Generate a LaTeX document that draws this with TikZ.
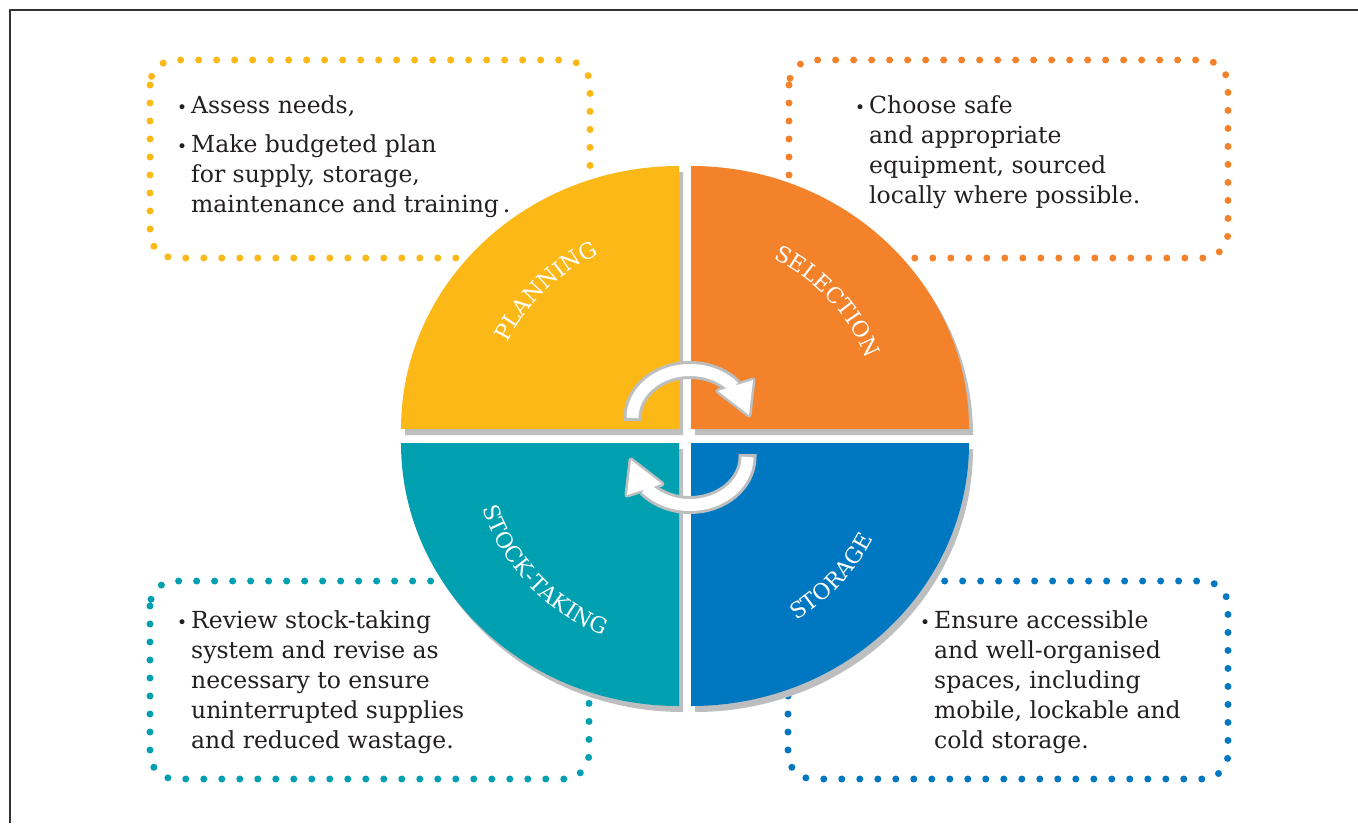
\documentclass[tikz,border=0pt]{standalone}
\usepackage{fontspec}
\setmainfont{DejaVu Serif}
\usetikzlibrary{calc,decorations.text}
\definecolor{cyPlan}{HTML}{FBB817}
\definecolor{cySelect}{HTML}{F3822A}
\definecolor{cyStock}{HTML}{00A0B0}
\definecolor{cyStore}{HTML}{0077C1}
\definecolor{cyShade}{HTML}{BCBEC0}
\definecolor{cyInk}{HTML}{231F20}
\definecolor{cyFrame}{HTML}{333333}
\newcommand{\cylabelfont}{\fontsize{22}{22}\selectfont\color{white}}
\newcommand{\cybul}{\makebox[14pt][l]{\fontsize{17}{30}\selectfont\textbullet}}
% one curved arrow of the cycle, drawn at the top, turned for the bottom one
\newcommand{\cyarrow}{%
  \draw[arrowrim] (632.5,421) -- (632.5,418) arc[start angle=180,end angle=320,x radius=57.5,y radius=48];
  \draw[cyShade,fill=cyShade,line width=5pt] (718,391) -- (753,380) -- (749,415) -- cycle;
  \draw[arrowcore] (632.5,418) arc[start angle=180,end angle=320,x radius=57.5,y radius=48];
  \fill[white] (718,391) -- (753,380) -- (749,415) -- cycle;}

\begin{document}
\begin{tikzpicture}[x=1pt,y=-1pt,line join=round]
\useasboundingbox[fill=white] (0,0) rectangle (1358,823);
\tikzset{dotbox/.style={draw=#1,line width=7pt,line cap=round,dash pattern=on 0pt off 18pt,rounded corners=25pt},
  quarter/.style={fill=#1},quartershadow/.style={fill=cyShade},
  boxtext/.style={font=\fontsize{23.5}{30}\selectfont,text=cyInk,inner sep=0pt,anchor=base west},
  arrowrim/.style={draw=cyShade,line width=18pt},arrowcore/.style={draw=white,line width=12pt}}
\draw[cyFrame,line width=1.5pt] (10,823) -- (10,10) -- (1358,10);
% dotted note boxes
\draw[dotbox=cyPlan] (150,60) rectangle (590,258);
\draw[dotbox=cySelect] (789,60) rectangle (1228,258);
\draw[dotbox=cyStock] (150,581) rectangle (589,779);
\draw[dotbox=cyStore] (788,581) rectangle (1228,779);
% quarter centres
\coordinate (planC) at (679,429); \coordinate (selC) at (691,429);
\coordinate (stockC) at (679,443); \coordinate (storeC) at (691,443);
% shadows
\path[quartershadow] (683,435) -- (405,435) arc[start angle=180,end angle=270,x radius=278,y radius=263] -- cycle;
\path[quartershadow] (695,435) -- (695,172) arc[start angle=270,end angle=360,x radius=278,y radius=263] -- cycle;
\path[quartershadow] (683,449) -- (683,712) arc[start angle=90,end angle=180,x radius=278,y radius=263] -- cycle;
\path[quartershadow] (695,449) -- (973,449) arc[start angle=0,end angle=90,x radius=278,y radius=263] -- cycle;
% quarters
\path[quarter=cyPlan] (planC) -- ++(-278,0) arc[start angle=180,end angle=270,x radius=278,y radius=263] -- cycle;
\path[quarter=cySelect] (selC) -- ++(0,-263) arc[start angle=270,end angle=360,x radius=278,y radius=263] -- cycle;
\path[quarter=cyStock] (stockC) -- ++(0,263) arc[start angle=90,end angle=180,x radius=278,y radius=263] -- cycle;
\path[quarter=cyStore] (storeC) -- ++(278,0) arc[start angle=0,end angle=90,x radius=278,y radius=263] -- cycle;
% curved labels
\path[decorate,decoration={text along path,text align=center,text={|\cylabelfont|PLANNING}}]
  ($(planC)+(196:192)$) arc[start angle=196,end angle=256,radius=192];
\path[decorate,decoration={text along path,text align=center,text={|\cylabelfont|SELECTION}}]
  ($(selC)+(287:189)$) arc[start angle=287,end angle=347,radius=189];
\path[decorate,decoration={text along path,text align=center,text={|\cylabelfont|STOCK-TAKING}}]
  ($(stockC)+(170:207)$) arc[start angle=170,end angle=103,radius=207];
\path[decorate,decoration={text along path,text align=center,text={|\cylabelfont|STORAGE}}]
  ($(storeC)+(75:206)$) arc[start angle=75,end angle=12,radius=206];
% cycle arrows
\cyarrow
\begin{scope}[rotate around={180:(690,437.5)}]
\cyarrow
\end{scope}
% note texts
\node[boxtext] (planText) at (177,113) {\begin{tabular}[t]{@{}l@{}l@{}}
  \cybul & Assess needs,\\[9pt]
  \cybul & Make budgeted plan\\
  & for supply, storage,\\
  & maintenance and training\,.\end{tabular}};
\node[boxtext] (selText) at (855,113) {\begin{tabular}[t]{@{}l@{}l@{}}
  \cybul & Choose safe\\
  & and appropriate\\
  & equipment, sourced\\
  & locally where possible.\end{tabular}};
\node[boxtext] (stockText) at (177,628) {\begin{tabular}[t]{@{}l@{}l@{}}
  \cybul & Review stock-taking\\
  & system and revise as\\
  & necessary to ensure\\
  & uninterrupted supplies\\
  & and reduced wastage.\end{tabular}};
\node[boxtext] (storeText) at (920,628) {\begin{tabular}[t]{@{}l@{}l@{}}
  \cybul & Ensure accessible\\
  & and well-organised\\
  & spaces, including\\
  & mobile, lockable and\\
  & cold storage.\end{tabular}};
\end{tikzpicture}
\end{document}
